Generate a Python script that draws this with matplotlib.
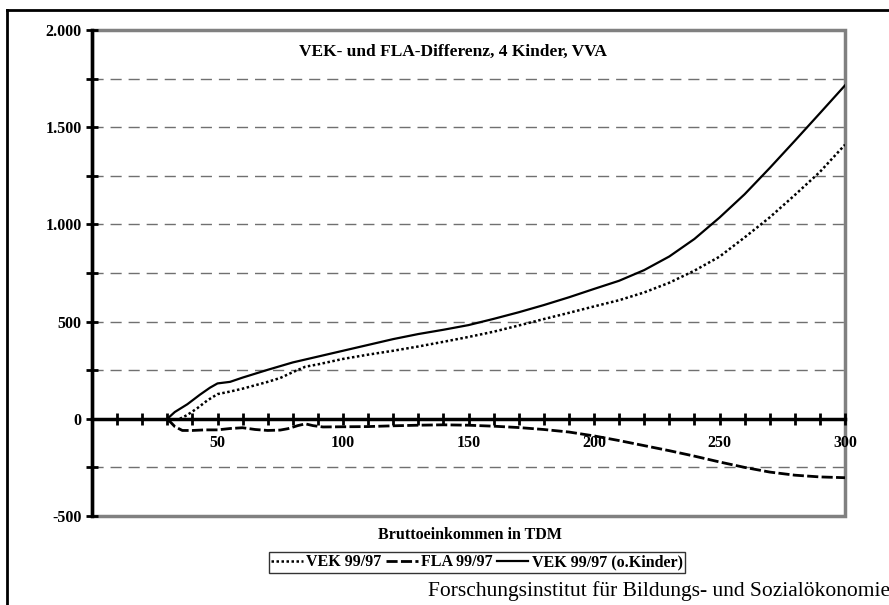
import matplotlib
matplotlib.use("Agg")
from matplotlib import pyplot as plt
from matplotlib.lines import Line2D
from matplotlib.patches import Rectangle
from matplotlib.ticker import FixedLocator, FuncFormatter

# VEK 99/97 (dotted)
vek_x = [35, 38, 42, 46, 50, 55, 60, 70, 75, 80, 85, 90, 100, 110, 120, 130, 140, 150,
         160, 170, 180, 190, 200, 210, 220, 230, 240, 250, 260, 270, 280, 290, 300]
vek_y = [0, 20, 55, 95, 127, 140, 155, 190, 210, 240, 268, 280, 308, 330, 350, 372, 396, 421,
         448, 480, 513, 545, 578, 610, 650, 700, 762, 834, 933, 1036, 1151, 1270, 1410]

# FLA 99/97 (dashed)
fla_x = [30, 33, 36, 40, 45, 50, 55, 60, 65, 70, 75, 78, 82, 85, 88, 92, 100, 110, 120, 130,
         140, 150, 160, 170, 180, 190, 200, 210, 220, 230, 240, 250, 260, 270, 280, 290, 300]
fla_y = [0, -40, -60, -60, -57, -57, -50, -46, -55, -60, -58, -51, -35, -26, -35, -42, -41, -40,
         -36, -33, -31, -33, -38, -45, -55, -68, -88, -112, -138, -164, -192, -222, -250, -274,
         -290, -299, -303]

# VEK 99/97 (o.Kinder) (solid)
ok_x = [30, 33, 38, 43, 47, 50, 55, 60, 70, 80, 90, 100, 110, 120, 130, 140, 150, 160, 170,
        180, 190, 200, 210, 220, 230, 240, 250, 260, 270, 280, 290, 300]
ok_y = [0, 35, 75, 124, 160, 182, 190, 212, 252, 290, 320, 350, 380, 410, 436, 458, 482, 514,
        548, 585, 625, 668, 710, 765, 835, 925, 1035, 1155, 1290, 1430, 1572, 1715]

y_ticks = list(range(-500, 2001, 250))
x_ticks = list(range(10, 301, 10))

plt.rcParams['font.family'] = ['Liberation Serif', 'DejaVu Serif']

fig = plt.figure(figsize=(8.89, 6.05), dpi=100)
ax = fig.add_axes([92 / 889, 1 - 516 / 605, (845 - 92) / 889, (516 - 30) / 605])

for v in y_ticks:
    if v not in (-500, 0, 2000):
        ax.axhline(v, color='#707070', lw=1, linestyle=(0, (8, 5)), zorder=1)

ax.plot(vek_x, vek_y, color='black', lw=1.8, linestyle=(0, (1, 1)),
        dash_capstyle='butt', label='VEK 99/97', zorder=3)
ax.plot(fla_x, fla_y, color='black', lw=2, linestyle=(0, (4, 1.2)),
        label='FLA 99/97', zorder=3)
ax.plot(ok_x, ok_y, color='black', lw=1.6, label='VEK 99/97 (o.Kinder)', zorder=3)

ax.set_xlim(0, 300)
ax.set_ylim(-500, 2000)

# grey plot frame, black axes at x=0 / y=0
ax.add_patch(Rectangle((0, 0), 1, 1, transform=ax.transAxes, fill=False,
                       edgecolor='#808080', lw=2.5, zorder=0, clip_on=False))
ax.spines['top'].set_visible(False)
ax.spines['right'].set_visible(False)
ax.spines['bottom'].set_position(('data', 0))
ax.spines['bottom'].set_linewidth(2.5)
ax.spines['left'].set_linewidth(2.5)
ax.spines['bottom'].set_zorder(4)
ax.spines['left'].set_zorder(4)

ax.xaxis.set_major_locator(FixedLocator(x_ticks))
ax.xaxis.set_major_formatter(FuncFormatter(lambda v, p: f"{v:.0f}" if v % 50 == 0 else ""))
ax.yaxis.set_major_locator(FixedLocator(y_ticks))
ax.yaxis.set_major_formatter(FuncFormatter(
    lambda v, p: f"{v:,.0f}".replace(',', '.') if v % 500 == 0 else ""))
ax.tick_params(axis='both', direction='inout', length=9, width=2, labelsize=11.5)
ax.tick_params(axis='x', pad=7)
ax.tick_params(axis='y', pad=3)
for lab in ax.get_xticklabels() + ax.get_yticklabels():
    lab.set_fontweight('bold')

fig.text(453 / 889, 1 - 52 / 605, 'VEK- und FLA-Differenz, 4 Kinder, VVA',
         ha='center', va='center', fontsize=12.5, fontweight='bold')
fig.text(470 / 889, 1 - 535 / 605, 'Bruttoeinkommen in TDM',
         ha='center', va='center', fontsize=11.5, fontweight='bold')

leg = fig.legend(loc='center', bbox_to_anchor=(477 / 889, 1 - 562.5 / 605), ncol=3,
                 prop={'weight': 'bold', 'size': 11.5}, frameon=True, fancybox=False,
                 handlelength=2.0, handletextpad=0.2, columnspacing=0.25,
                 borderpad=0.15, borderaxespad=0)
leg.get_frame().set_edgecolor('black')
leg.get_frame().set_linewidth(1)

fig.text(428 / 889, 1 - 596 / 605, 'Forschungsinstitut für Bildungs- und Sozialökonomie',
         ha='left', va='baseline', fontsize=15.5)

# outer frame lines
fig.add_artist(Line2D([7 / 889, 1], [1 - 10 / 605, 1 - 10 / 605], color='black', lw=2,
                      transform=fig.transFigure))
fig.add_artist(Line2D([7 / 889, 7 / 889], [0, 1 - 10 / 605], color='black', lw=2,
                      transform=fig.transFigure))

fig.savefig('out.png', dpi=100)
